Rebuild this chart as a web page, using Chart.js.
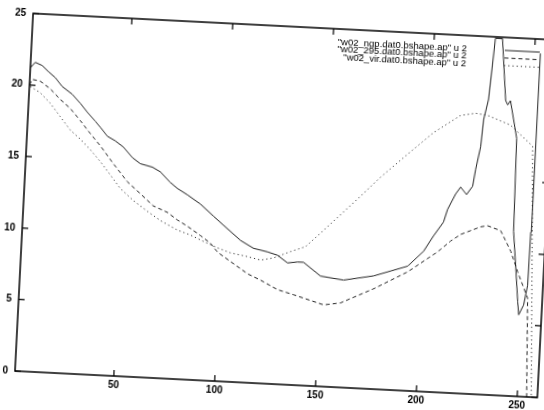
<!DOCTYPE html>
<html>
<head>
<meta charset="utf-8">
<script src="https://cdn.jsdelivr.net/npm/chart.js@4/dist/chart.umd.min.js"></script>
<style>
  html, body { margin: 0; padding: 0; background: #fff; overflow: hidden; width: 544px; height: 410px; }
  #wrap { position: absolute; width: 561px; height: 388px; }
  #plot { display: block; }
</style>
</head>
<body>
<div id="wrap"><canvas id="plot" width="561" height="388"></canvas></div>
<script>
// Tick positions
const xTicks = [50, 100, 150, 200, 250];
const yTicks = [0, 5, 10, 15, 20, 25];

// Series labels
const labels = [
  '"w02_ngp.dat0.bshape.ap" u 2',
  '"w02_295.dat0.bshape.ap" u 2',
  '"w02_vir.dat0.bshape.ap" u 2'
];

// w02_ngp
const ngpX = [1.0, 3.3, 6.8, 10.0, 13.6, 17.3, 22.4, 26.6, 30.3, 34.5, 37.1, 40.8, 44.9, 49.0, 53.7, 57.8,
  63.9, 67.9, 73.1, 76.8, 81.8, 88.5, 95.3, 100.5, 109.3, 115.9, 122.9, 127.9, 133.1, 138.0, 141.0, 149.7,
  161.2, 176.0, 184.3, 192.6, 200.1, 204.6, 209.2, 210.9, 214.5, 216.8, 219.9, 222.7, 223.8, 225.7, 226.5,
  228.4, 230.3, 233.8, 236.9, 238.0, 239.3, 243.3, 244.1, 246.0, 247.9, 248.7, 250.9, 252.4, 252.6, 252.8, 253.0];
const ngpY = [21.2, 21.6, 21.4, 21.0, 20.6, 20.0, 19.5, 18.9, 18.3, 17.7, 17.3, 16.7, 16.4, 16.0, 15.3, 14.9,
  14.7, 14.4, 13.7, 13.3, 12.9, 12.3, 11.5, 10.9, 9.9, 9.4, 9.2, 9.0, 8.5, 8.6, 8.6, 7.7,
  7.5, 7.9, 8.3, 8.7, 9.8, 10.9, 11.9, 12.8, 13.9, 14.4, 13.9, 14.5, 15.7, 17.3, 19.2,
  20.6, 24.9, 24.9, 20.6, 20.3, 20.6, 18.0, 11.5, 9.1, 6.6, 5.7, 6.4, 7.8, 11.5, 20.7, 24.0];

// w02_295
const s295X = [1.0, 2.2, 6.3, 11.4, 16.6, 21.8, 27.0, 31.2, 37.6, 44.5, 51.8, 58.6, 65.3, 72.4, 77.6, 82.7,
  89.3, 94.5, 98.2, 104.8, 113.6, 120.2, 128.8, 136.9, 152.0, 160.3, 176.3, 192.7, 207.0, 213.2, 218.0,
  227.7, 231.1, 237.7, 243.2, 247.1, 250.5, 252.7, 254.7];
const s295Y = [20.0, 20.4, 20.3, 19.8, 19.1, 18.5, 17.7, 17.0, 16.0, 14.8, 13.6, 12.8, 12.0, 11.6, 11.1, 10.7,
  10.1, 9.6, 9.0, 8.4, 7.6, 7.2, 6.6, 6.3, 5.7, 5.9, 7.0, 8.3, 9.8, 10.6, 11.1,
  11.7, 11.8, 11.5, 10.1, 8.7, 7.6, 6.9, 0];

// w02_vir
const virX = [1.4, 6.5, 11.7, 17.0, 22.3, 27.5, 32.7, 38.0, 43.3, 48.5, 55.3, 62.5, 69.2, 77.8, 84.4, 91.0,
  98.1, 104.6, 113.1, 119.7, 126.0, 134.3, 141.6, 150.1, 166.1, 176.9, 189.7, 202.0, 215.0, 222.3, 228.3,
  239.9, 251.4, 257.0];
const virY = [19.9, 19.5, 18.8, 17.9, 17.0, 16.4, 15.7, 14.9, 14.0, 13.1, 12.3, 11.6, 11.0, 10.4, 10.1, 9.7,
  9.3, 9.0, 8.8, 8.6, 8.8, 9.3, 9.7, 10.9, 13.2, 14.8, 16.5, 18.1, 19.4, 19.6, 19.5,
  18.9, 17.5, 0];

const pts = (xs, ys) => xs.map((x, i) => ({ x, y: ys[i] }));

const FAMILY = '"Liberation Sans", Arial, sans-serif';
const TICK_FONT = { family: FAMILY, size: 10, weight: 'bold' };
const KEY_FONT_SIZE = 9.5;
const INK = '#000';

// Closed border with inward ticks on all four sides, plus the key
const framePlugin = {
  id: 'frame',
  afterDatasetsDraw(chart) {
    const { ctx, chartArea: a, scales: { x, y } } = chart;
    ctx.save();
    ctx.strokeStyle = INK;
    ctx.lineWidth = 1.5;
    ctx.strokeRect(a.left, a.top, a.right - a.left, a.bottom - a.top);
    ctx.lineWidth = 1.2;
    const t = 6;
    ctx.beginPath();
    xTicks.forEach(v => {
      const px = x.getPixelForValue(v);
      ctx.moveTo(px, a.bottom); ctx.lineTo(px, a.bottom - t);
      ctx.moveTo(px, a.top); ctx.lineTo(px, a.top + t);
    });
    yTicks.forEach(v => {
      const py = y.getPixelForValue(v);
      ctx.moveTo(a.left, py); ctx.lineTo(a.left + t, py);
      ctx.moveTo(a.right, py); ctx.lineTo(a.right - t, py);
    });
    ctx.stroke();

    // key
    ctx.font = `${KEY_FONT_SIZE}px ${FAMILY}`;
    ctx.textAlign = 'right';
    ctx.textBaseline = 'middle';
    ctx.fillStyle = INK;
    chart.data.datasets.forEach((ds, i) => {
      const ry = a.top + 13 + i * 7.6;
      ctx.fillText(ds.label, a.right - 88, ry);
      ctx.beginPath();
      ctx.setLineDash(ds.borderDash || []);
      ctx.strokeStyle = ds.borderColor;
      ctx.lineWidth = ds.borderWidth;
      ctx.moveTo(a.right - 50, ry);
      ctx.lineTo(a.right - 15, ry);
      ctx.stroke();
      ctx.setLineDash([]);
    });
    ctx.restore();
  }
};

const chart = new Chart(document.getElementById('plot'), {
  type: 'line',
  data: {
    datasets: [
      { label: labels[0], data: pts(ngpX, ngpY), borderColor: '#222', borderWidth: 1, borderDash: [] },
      { label: labels[1], data: pts(s295X, s295Y), borderColor: '#222', borderWidth: 1, borderDash: [4, 3] },
      { label: labels[2], data: pts(virX, virY), borderColor: '#333', borderWidth: 1, borderDash: [1.2, 3] }
    ]
  },
  options: {
    responsive: false,
    animation: false,
    events: [],
    layout: { padding: { top: 8, right: 8, left: 0, bottom: 0 } },
    elements: { point: { radius: 0 }, line: { tension: 0 } },
    plugins: { legend: { display: false }, tooltip: { enabled: false } },
    scales: {
      x: {
        type: 'linear', min: 1, max: 260,
        afterBuildTicks: s => { s.ticks = xTicks.map(v => ({ value: v })); },
        afterFit: s => { s.height = 22; s.paddingLeft = 0; s.paddingRight = 0; },
        grid: { display: false, drawTicks: false },
        border: { display: false },
        ticks: { color: INK, font: TICK_FONT, padding: 3, maxRotation: 0 }
      },
      y: {
        type: 'linear', min: 0, max: 25,
        afterBuildTicks: s => { s.ticks = yTicks.map(v => ({ value: v })); },
        afterFit: s => { s.width = 30; s.paddingTop = 0; s.paddingBottom = 0; },
        grid: { display: false, drawTicks: false },
        border: { display: false },
        ticks: { color: INK, font: TICK_FONT, padding: 7 }
      }
    }
  },
  plugins: [framePlugin]
});

// Tilt the whole figure about the lower-left corner of the plot box
const a = chart.chartArea;
const wrap = document.getElementById('wrap');
wrap.style.left = (14.6 - a.left) + 'px';
wrap.style.top = (370.5 - a.bottom) + 'px';
wrap.style.transformOrigin = `${a.left}px ${a.bottom}px`;
wrap.style.transform = 'rotate(2.9deg)';
</script>
</body>
</html>
